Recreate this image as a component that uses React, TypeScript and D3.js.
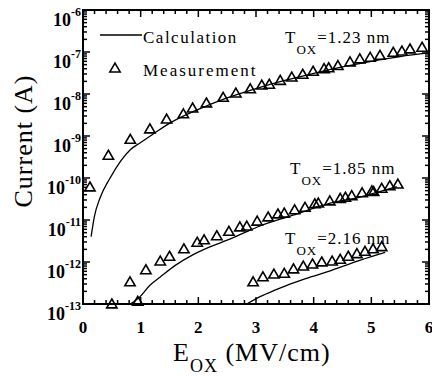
import React from "react";
import * as d3 from "d3";

// ---- data ----
const meas123X = [0.12, 0.44, 0.82, 1.16, 1.45, 1.74, 1.9, 2.14, 2.43, 2.65, 2.9, 3.1, 3.23, 3.42, 3.62, 3.81, 3.99, 4.18, 4.26, 4.42, 4.63, 4.8, 4.98, 5.15, 5.38, 5.53, 5.67, 5.88];
const meas123Y = [5.8e-11, 3.3e-10, 7.9e-10, 1.4e-9, 2.4e-9, 3.2e-9, 4.4e-9, 5.8e-9, 7.9e-9, 1.0e-8, 1.26e-8, 1.55e-8, 1.62e-8, 2.0e-8, 2.4e-8, 2.8e-8, 3.3e-8, 3.8e-8, 4.0e-8, 4.5e-8, 5.5e-8, 6.5e-8, 7.1e-8, 7.9e-8, 9.3e-8, 1.0e-7, 1.12e-7, 1.23e-7];
const calc123X = [0.14, 0.2, 0.29, 0.47, 0.65, 0.82, 1.0, 1.25, 1.5, 2.0, 2.5, 3.0, 3.5, 4.0, 4.5, 5.0, 5.5, 6.0];
const calc123Y = [4e-12, 1.26e-11, 3.2e-11, 1.0e-10, 2.5e-10, 4.7e-10, 7e-10, 1.2e-9, 2e-9, 4.3e-9, 8.1e-9, 1.35e-8, 2.1e-8, 3.1e-8, 4.4e-8, 6e-8, 7.8e-8, 9.5e-8];

const meas185X = [0.5, 0.815, 0.95, 1.09, 1.34, 1.5, 1.75, 1.98, 2.1, 2.32, 2.53, 2.72, 2.84, 3.02, 3.21, 3.38, 3.49, 3.67, 3.85, 4.02, 4.08, 4.28, 4.46, 4.55, 4.66, 4.84, 5.01, 5.04, 5.18, 5.32, 5.46];
const meas185Y = [9.5e-14, 3.2e-13, 1.1e-13, 6.2e-13, 1.0e-12, 1.3e-12, 1.95e-12, 2.8e-12, 3.2e-12, 4.0e-12, 5.1e-12, 6.5e-12, 6.8e-12, 8.9e-12, 1.12e-11, 1.32e-11, 1.38e-11, 1.66e-11, 1.9e-11, 2.3e-11, 2.4e-11, 2.7e-11, 3.1e-11, 3.3e-11, 3.6e-11, 4.2e-11, 4.7e-11, 4.5e-11, 5.4e-11, 6.2e-11, 6.8e-11];
const calc185X = [0.82, 0.99, 1.16, 1.34, 1.6, 1.91, 2.2, 2.5, 2.8, 3.07, 3.64, 4.23, 4.8, 5.44];
const calc185Y = [1e-13, 1.5e-13, 2.8e-13, 4.4e-13, 8.3e-13, 1.5e-12, 2.3e-12, 3.3e-12, 5e-12, 7.2e-12, 1.3e-11, 2.4e-11, 3.5e-11, 6.2e-11];

const meas216X = [2.95, 3.12, 3.31, 3.49, 3.65, 3.82, 3.98, 4.14, 4.32, 4.46, 4.6, 4.75, 4.89, 5.03, 5.18];
const meas216Y = [3.2e-13, 4.2e-13, 4.9e-13, 5.1e-13, 6.5e-13, 7.6e-13, 8.5e-13, 9.5e-13, 1.0e-12, 1.1e-12, 1.3e-12, 1.5e-12, 1.7e-12, 1.95e-12, 2.2e-12];
const calc216X = [2.84, 3.07, 3.35, 3.65, 3.95, 4.23, 4.5, 4.8, 5.24];
const calc216Y = [1e-13, 1.5e-13, 2.2e-13, 3.2e-13, 4.4e-13, 5.8e-13, 7.9e-13, 1.1e-12, 1.7e-12];

const xTickLabels = ["0", "1", "2", "3", "4", "5", "6"];
const yExponents = [-6, -7, -8, -9, -10, -11, -12, -13];
const seriesLabels = ["=1.23 nm", "=1.85 nm", "=2.16 nm"];
const legendLabels = ["Calculation", "Measurement"];

const W = 432, H = 376;
const L = 83, R = 429, T = 10, B = 304;
const FONT = "Liberation Serif, DejaVu Serif, serif";

export default function App() {
  const x = d3.scaleLinear().domain([0, 6]).range([L, R]);
  const y = d3.scaleLog().domain([1e-13, 1e-6]).range([B, T]);
  const line = d3.line<[number, number]>()
    .x(d => x(d[0])).y(d => y(d[1]))
    .curve(d3.curveMonotoneX);
  const tri = d3.symbol(d3.symbolTriangle, 46)()!;

  const curves = [
    d3.zip(calc123X, calc123Y),
    d3.zip(calc185X, calc185Y),
    d3.zip(calc216X, calc216Y),
  ] as [number, number][][];
  const meas = [
    d3.zip(meas123X, meas123Y),
    d3.zip(meas185X, meas185Y),
    d3.zip(meas216X, meas216Y),
  ] as [number, number][][];

  const xMinor = d3.range(0, 31).map(i => i * 0.2);
  const yMinor: number[] = [];
  for (let e = -13; e < -6; e++) for (let k = 2; k <= 9; k++) yMinor.push(k * Math.pow(10, e));

  const ticks: any[] = [];
  xMinor.forEach((v, i) => {
    const major = Math.abs(v - Math.round(v)) < 1e-6;
    const len = major ? 7 : 4;
    const px = x(v);
    ticks.push(<line key={"xb" + i} x1={px} x2={px} y1={B} y2={B - len} />);
    ticks.push(<line key={"xt" + i} x1={px} x2={px} y1={T} y2={T + len} />);
  });
  yExponents.forEach((e, i) => {
    const py = y(Math.pow(10, e));
    ticks.push(<line key={"yl" + i} x1={L} x2={L + 7} y1={py} y2={py} />);
    ticks.push(<line key={"yr" + i} x1={R} x2={R - 7} y1={py} y2={py} />);
  });
  yMinor.forEach((v, i) => {
    const py = y(v);
    ticks.push(<line key={"yml" + i} x1={L} x2={L + 4} y1={py} y2={py} />);
    ticks.push(<line key={"ymr" + i} x1={R} x2={R - 4} y1={py} y2={py} />);
  });

  const labelPos = [
    { lx: 285, ly: 43 },
    { lx: 290, ly: 174 },
    { lx: 285, ly: 244 },
  ];

  return (
    <svg width={W} height={H} style={{ position: "absolute", left: 0, top: 0, background: "#fff", fontFamily: FONT }}>
      <rect x={0} y={0} width={W} height={H} fill="#fff" />
      {curves.map((c, i) => (
        <path key={"c" + i} d={line(c) || ""} fill="none" stroke="#000" strokeWidth={1.3} />
      ))}
      {meas.map((m, i) => (
        <g key={"m" + i}>
          {m.map((d, j) => (
            <path key={j} d={tri} transform={`translate(${x(d[0])},${y(d[1])})`} fill="none" stroke="#000" strokeWidth={1.6} />
          ))}
        </g>
      ))}
      <g stroke="#000" strokeWidth={1.5}>{ticks}</g>
      <rect x={L} y={T} width={R - L} height={B - T} fill="none" stroke="#000" strokeWidth={2} />

      {xTickLabels.map((t, i) => (
        <text key={"xl" + i} x={x(+t)} y={333} textAnchor="middle" fontSize={17} fontWeight="bold">{t}</text>
      ))}
      {yExponents.map((e, i) => (
        <text key={"ylab" + i} x={81} y={y(Math.pow(10, e)) + 16} textAnchor="end" fontSize={18} fontWeight="bold">
          10<tspan fontSize={12} dy={-10}>{String(e)}</tspan>
        </text>
      ))}

      <text x={173} y={361} fontSize={26} letterSpacing={1}>
        E<tspan fontSize={18} dy={11}>OX</tspan><tspan dy={-11}>{" (MV/cm)"}</tspan>
      </text>
      <text transform="translate(32,141) rotate(-90)" textAnchor="middle" fontSize={26} letterSpacing={1}>Current (A)</text>

      <line x1={100} x2={142} y1={35} y2={35} stroke="#000" strokeWidth={1.3} />
      <text x={143} y={43} fontSize={17} letterSpacing={1.5}>{legendLabels[0]}</text>
      <path d={tri} transform="translate(115,69)" fill="none" stroke="#000" strokeWidth={1.6} />
      <text x={143} y={76} fontSize={17} letterSpacing={2}>{legendLabels[1]}</text>

      {labelPos.map((p, i) => (
        <text key={"sl" + i} x={p.lx} y={p.ly} fontSize={17} letterSpacing={1}>
          T<tspan fontSize={13} dy={11}>OX</tspan><tspan dy={-11}>{seriesLabels[i]}</tspan>
        </text>
      ))}
    </svg>
  );
}
